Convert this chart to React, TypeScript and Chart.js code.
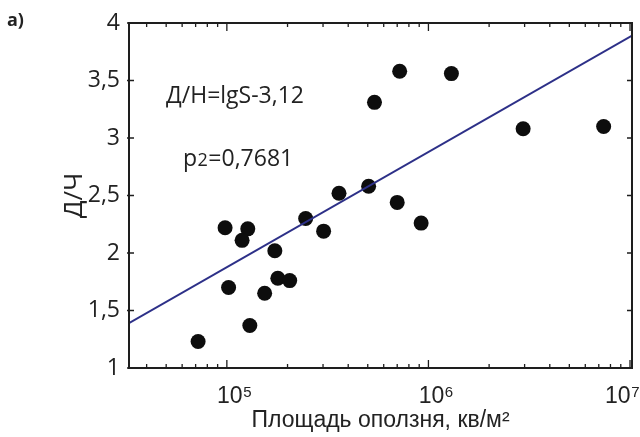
import React, { useEffect, useRef } from 'react';
import { Chart, registerables } from 'chart.js';

Chart.register(...registerables);

// Landslide area S (m²) and ratio D/H
const areaS = [9.8e4, 1.27e5, 1.19e5, 1.73e5, 2.46e5, 3.02e5, 1.02e5, 1.79e5, 2.05e5, 1.54e5, 1.3e5, 7.2e4, 7.0e5, 9.2e5, 7.2e5, 1.3e6, 5.4e5, 2.95e6, 7.4e6, 3.6e5, 5.05e5];
const ratioDH = [2.22, 2.21, 2.11, 2.02, 2.3, 2.19, 1.7, 1.78, 1.76, 1.65, 1.37, 1.23, 2.44, 2.26, 3.58, 3.56, 3.31, 3.08, 3.1, 2.52, 2.58];

// Regression line end points (Д/Н = lgS - 3,12)
const fitX = [3.27e4, 1.023e7];
const fitY = [1.39, 3.89];

const xMajorTicks = [1e5, 1e6, 1e7];
const xTickBase = ['10', '10', '10'];
const xTickExp = ['5', '6', '7'];
const yTicks = [1, 1.5, 2, 2.5, 3, 3.5, 4];
const yTickLabels = ['1', '1,5', '2', '2,5', '3', '3,5', '4'];

const xRange = [3.27e4, 1.023e7];
const yRange = [1, 4];

const equationText = 'Д/Н=lgS-3,12';
const r2Prefix = 'р';
const r2Sub = '2';
const r2Value = '=0,7681';
const xTitle = 'Площадь оползня, кв/м²';
const yTitle = 'Д/Ч';
const panelLabel = 'а)';

const INK = '#1e1e1e';
const TEXT = '#222';

const framePlugin = {
  id: 'frame',
  afterDatasetsDraw(chart: any) {
    const { ctx, chartArea } = chart;
    const { left, right, top, bottom } = chartArea;
    const xs = chart.scales.x;
    const ys = chart.scales.y;
    ctx.save();
    ctx.strokeStyle = INK;
    ctx.lineWidth = 1.3;
    ctx.beginPath();
    const lo = Math.floor(Math.log10(xs.min));
    const hi = Math.ceil(Math.log10(xs.max));
    for (let e = lo; e <= hi; e++) {
      for (let k = 1; k <= 9; k++) {
        const v = k * Math.pow(10, e);
        if (v < xs.min || v > xs.max) continue;
        const px = xs.getPixelForValue(v);
        const len = k === 1 ? 8 : 4;
        ctx.moveTo(px, bottom);
        ctx.lineTo(px, bottom - len);
        ctx.moveTo(px, top);
        ctx.lineTo(px, top + len);
      }
    }
    for (const v of yTicks) {
      const py = ys.getPixelForValue(v);
      ctx.moveTo(left + 5, py);
      ctx.lineTo(left - 2, py);
      ctx.moveTo(right, py);
      ctx.lineTo(right - 5, py);
    }
    ctx.stroke();
    ctx.lineWidth = 2;
    ctx.strokeRect(left, top, right - left, bottom - top);

    // x tick labels with superscript exponents
    ctx.fillStyle = TEXT;
    ctx.textBaseline = 'alphabetic';
    ctx.textAlign = 'left';
    const baseFont = '23px "Liberation Sans", Arial';
    const expFont = '15px "Liberation Sans", Arial';
    const W = chart.width;
    xMajorTicks.forEach((v, i) => {
      const px = xs.getPixelForValue(v);
      ctx.font = baseFont;
      const wb = ctx.measureText(xTickBase[i]).width;
      ctx.font = expFont;
      const we = ctx.measureText(xTickExp[i]).width;
      let x0 = px - wb / 2 + 3;
      if (x0 + wb + we > W - 1) x0 = W - 1 - wb - we;
      ctx.font = baseFont;
      ctx.fillText(xTickBase[i], x0, bottom + 35);
      ctx.font = expFont;
      ctx.fillText(xTickExp[i], x0 + wb + 0.5, bottom + 29);
    });

    // annotations
    ctx.font = '23px "Open Sans"';
    ctx.fillText(equationText, 166, 103);
    let x = 183;
    ctx.fillText(r2Prefix, x, 166);
    x += ctx.measureText(r2Prefix).width + 0.5;
    ctx.font = '18px "Open Sans"';
    ctx.fillText(r2Sub, x, 166);
    x += ctx.measureText(r2Sub).width + 0.5;
    ctx.font = '23px "Open Sans"';
    ctx.fillText(r2Value, x, 166);
    ctx.restore();
  },
};

export default function App() {
  const canvasRef = useRef<HTMLCanvasElement | null>(null);

  useEffect(() => {
    if (!canvasRef.current) return;
    const chart = new Chart(canvasRef.current, {
      type: 'scatter',
      data: {
        datasets: [
          {
            type: 'line',
            label: 'fit',
            data: fitX.map((x, i) => ({ x, y: fitY[i] })),
            borderColor: '#2d3088',
            borderWidth: 1.8,
            pointRadius: 0,
            fill: false,
          } as any,
          {
            label: 'data',
            data: areaS.map((x, i) => ({ x, y: ratioDH[i] })),
            backgroundColor: '#0d0d0d',
            borderColor: '#0d0d0d',
            borderWidth: 0,
            pointRadius: 7.5,
          },
        ],
      },
      options: {
        animation: false,
        responsive: false,
        maintainAspectRatio: false,
        layout: { padding: { left: 0, right: 8, top: 23, bottom: 0 } },
        plugins: { legend: { display: false }, tooltip: { enabled: false } },
        scales: {
          x: {
            type: 'logarithmic',
            min: xRange[0],
            max: xRange[1],
            afterBuildTicks: (s: any) => {
              s.ticks = xMajorTicks.map((v) => ({ value: v, major: true }));
            },
            afterFit: (s: any) => {
              s.height = 69;
              s.paddingLeft = 0;
              s.paddingRight = 0;
            },
            grid: { display: false },
            border: { display: false },
            ticks: { display: false },
            title: {
              display: true,
              text: xTitle,
              color: TEXT,
              font: { family: '"Liberation Sans", Arial', size: 23 },
              padding: { top: 0, bottom: 3 },
            },
          },
          y: {
            type: 'linear',
            min: yRange[0],
            max: yRange[1],
            afterBuildTicks: (s: any) => {
              s.ticks = yTicks.map((v) => ({ value: v }));
            },
            afterFit: (s: any) => {
              s.width = 129;
              s.paddingTop = 0;
              s.paddingBottom = 0;
            },
            grid: { display: false },
            border: { display: false },
            ticks: {
              autoSkip: false,
              padding: 1,
              color: TEXT,
              font: { family: '"Open Sans"', size: 23 },
              callback: (v: any) => {
                const i = yTicks.indexOf(Number(v));
                return i >= 0 ? yTickLabels[i] : '';
              },
            },
            title: {
              display: true,
              text: yTitle,
              color: TEXT,
              font: { family: '"Open Sans"', size: 26 },
              padding: { top: 59, bottom: 0 },
            },
          },
        },
      },
      plugins: [framePlugin],
    });
    return () => chart.destroy();
  }, []);

  return (
    <div style={{ position: 'fixed', left: 0, top: 0, width: 640, height: 437, background: '#fff' }}>
      <canvas ref={canvasRef} width={640} height={437} style={{ display: 'block', width: 640, height: 437 }} />
      <div
        style={{
          position: 'absolute',
          left: 7,
          top: 8,
          fontFamily: '"Open Sans", sans-serif',
          fontWeight: 700,
          fontSize: 18,
          lineHeight: '22px',
          color: TEXT,
        }}
      >
        {panelLabel}
      </div>
    </div>
  );
}
